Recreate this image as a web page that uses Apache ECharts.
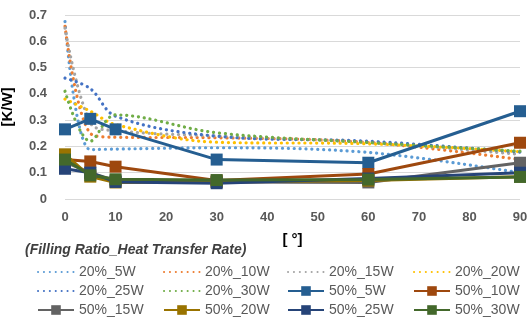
<!DOCTYPE html>
<html><head><meta charset="utf-8">
<script src="https://cdn.jsdelivr.net/npm/echarts@6/dist/echarts.min.js"></script>
<style>html,body{margin:0;padding:0;background:#fff}#c{width:532px;height:320px}</style>
</head><body><div id="c"></div>
<script>
const angles = [0, 5, 10, 30, 60, 90];
const yTicks = [0, 0.1, 0.2, 0.3, 0.4, 0.5, 0.6, 0.7];
const xTicks = [0, 10, 20, 30, 40, 50, 60, 70, 80, 90];
const seriesNames = ['20%_5W','20%_10W','20%_15W','20%_20W','20%_25W','20%_30W',
                     '50%_5W','50%_10W','50%_15W','50%_20W','50%_25W','50%_30W'];
const v20_5W  = [0.675, 0.188, 0.19, 0.195, 0.177, 0.10];
const v20_10W = [0.657, 0.25, 0.235, 0.233, 0.215, 0.15];
const v20_15W = [0.65, 0.29, 0.26, 0.24, 0.215, 0.17];
const v20_20W = [0.38, 0.334, 0.283, 0.216, 0.21, 0.18];
const v20_25W = [0.46, 0.42, 0.315, 0.239, 0.22, 0.178];
const v20_30W = [0.41, 0.22, 0.32, 0.252, 0.215, 0.182];
const v50_5W  = [0.265, 0.305, 0.265, 0.15, 0.138, 0.334];
const v50_10W = [0.15, 0.143, 0.123, 0.07, 0.095, 0.214];
const v50_15W = [0.14, 0.10, 0.07, 0.065, 0.063, 0.138];
const v50_20W = [0.17, 0.085, 0.063, 0.065, 0.07, 0.085];
const v50_25W = [0.115, 0.10, 0.065, 0.06, 0.078, 0.10];
const v50_30W = [0.15, 0.09, 0.075, 0.072, 0.074, 0.084];
const values = [v20_5W, v20_10W, v20_15W, v20_20W, v20_25W, v20_30W,
                v50_5W, v50_10W, v50_15W, v50_20W, v50_25W, v50_30W];
const colors = ['#5B9BD5','#ED7D31','#A5A5A5','#FFC000','#4472C4','#70AD47',
                '#255E91','#9E480E','#636363','#997300','#264478','#43682B'];
const legendCols = [
  ['20%_5W','20%_25W','50%_15W'],
  ['20%_10W','20%_30W','50%_20W'],
  ['20%_15W','50%_5W','50%_25W'],
  ['20%_20W','50%_10W','50%_30W']
];
const legendLeft = [37, 163, 287, 413];

const series = seriesNames.map((n, i) => {
  const dotted = i < 6;
  return {
    name: n, type: 'line',
    data: angles.map((a, k) => [a, values[i][k]]),
    color: colors[i],
    smooth: dotted ? 0.35 : false,
    symbol: dotted ? 'none' : 'rect',
    symbolSize: 12,
    lineStyle: dotted ? {width: 3.2, type: [0.1, 5.8], cap: 'round', color: colors[i]}
                      : {width: 3, color: colors[i]},
    itemStyle: {color: colors[i]},
    z: dotted ? 2 : 3
  };
});

const chart = echarts.init(document.getElementById('c'), null, {renderer: 'canvas'});
chart.setOption({
  animation: false,
  backgroundColor: '#fff',
  grid: {left: 65, right: 12, top: 15, bottom: 121, containLabel: false, outerBoundsMode: 'none'},
  title: {
    text: '(Filling Ratio_Heat Transfer Rate)', left: 20, top: 238,
    textStyle: {fontFamily: 'Liberation Sans', fontSize: 14, fontWeight: 'bold', fontStyle: 'italic', color: '#404040'}
  },
  xAxis: {
    type: 'value', min: 0, max: 90, interval: 10,
    name: '[ °]', nameLocation: 'middle', nameGap: 33,
    nameTextStyle: {fontFamily: 'Liberation Sans', fontSize: 15, fontWeight: 'bold', color: '#000'},
    axisLine: {show: false}, axisTick: {show: false}, splitLine: {show: false},
    axisLabel: {margin: 12, fontFamily: 'Liberation Sans', fontSize: 13, fontWeight: 'bold', color: '#595959',
      formatter: v => xTicks.includes(v) ? String(v) : ''}
  },
  yAxis: {
    type: 'value', min: 0, max: 0.7, interval: 0.1,
    name: '[K/W]', nameLocation: 'middle', nameGap: 50, nameRotate: 90,
    nameTextStyle: {fontFamily: 'Liberation Sans', fontSize: 15, fontWeight: 'bold', color: '#000'},
    axisLine: {show: false}, axisTick: {show: false},
    splitLine: {lineStyle: {color: '#D9D9D9', width: 1}},
    axisLabel: {margin: 18, fontFamily: 'Liberation Sans', fontSize: 13, fontWeight: 'bold', color: '#595959',
      formatter: v => { const t = yTicks.find(x => Math.abs(x - v) < 1e-9); return t === undefined ? '' : (t === 0 ? '0' : t.toFixed(1)); }}
  },
  legend: legendCols.map((col, ci) => ({
    data: col.map(n => seriesNames.indexOf(n) < 6 ? {name: n, itemStyle: {opacity: 0}} : {name: n}),
    orient: 'vertical', left: legendLeft[ci], top: 265, height: 56,
    itemWidth: 36, itemHeight: 12, itemGap: 5, padding: 0,
    textStyle: {fontFamily: 'Liberation Sans', fontSize: 14, color: '#595959'},
    selectedMode: false
  })),
  series: series
});
</script></body></html>
